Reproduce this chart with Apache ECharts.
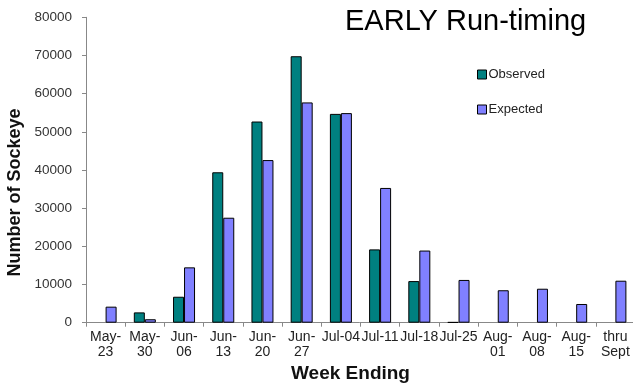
<!DOCTYPE html>
<html>
<head>
<meta charset="utf-8">
<script src="https://cdn.jsdelivr.net/npm/echarts@6/dist/echarts.min.js"></script>
<style>
  html, body { margin: 0; padding: 0; background: #fff; }
  #chart { width: 633px; height: 388px; }
</style>
</head>
<body>
<div id="chart"></div>
<script>
// Weekly sockeye counts, early run (null = no observation that week)
const weeks = ['May-\n23', 'May-\n30', 'Jun-\n06', 'Jun-\n13', 'Jun-\n20', 'Jun-\n27', 'Jul-04',
               'Jul-11', 'Jul-18', 'Jul-25', 'Aug-\n01', 'Aug-\n08', 'Aug-\n15', 'thru\nSept'];
const observed = [null, 2700, 6800, 39400, 52700, 69800, 54700, 19200, 10900, 150, null, null, null, null];
const expected = [4200, 900, 14500, 27500, 42600, 57700, 54900, 35300, 18900, 11200, 8500, 8900, 4900, 11000];
const yTicks = { min: 0, max: 80000, interval: 10000 };

const chart = echarts.init(document.getElementById('chart'), null, { renderer: 'canvas' });
const font = 'Liberation Sans, Arial, sans-serif';

chart.setOption({
  animation: false,
  backgroundColor: '#ffffff',
  title: {
    text: 'EARLY Run-timing',
    left: 340,
    top: 2,
    textStyle: { fontFamily: font, fontSize: 29, fontWeight: 'normal', color: '#000' }
  },
  legend: {
    orient: 'vertical',
    left: 477,
    top: 68,
    padding: 0,
    itemGap: 22,
    itemWidth: 9,
    itemHeight: 9,
    icon: 'rect',
    itemStyle: { borderColor: '#000', borderWidth: 1 },
    textStyle: { fontFamily: font, fontSize: 13, color: '#222', padding: [0, 0, 0, -3] },
    data: ['Observed', 'Expected']
  },
  grid: { left: 86, right: -2, top: 17.3, bottom: 65.3, containLabel: false, outerBoundsMode: 'none' },
  xAxis: {
    type: 'category',
    data: weeks,
    name: 'Week Ending',
    nameLocation: 'middle',
    nameGap: 42,
    nameTextStyle: { fontFamily: font, fontSize: 19, fontWeight: 'bold', color: '#111', padding: [0, 20, 0, 0] },
    axisLine: { lineStyle: { color: '#888', width: 1 } },
    axisTick: { show: true, length: 4, interval: 0, lineStyle: { color: '#888' } },
    axisLabel: { interval: 0, fontFamily: font, fontSize: 14, color: '#222', lineHeight: 15, margin: 7 },
    splitLine: { show: false }
  },
  yAxis: {
    type: 'value',
    min: yTicks.min,
    max: yTicks.max,
    interval: yTicks.interval,
    name: 'Number of Sockeye',
    nameLocation: 'middle',
    nameGap: 57,
    nameTextStyle: { fontFamily: font, fontSize: 18, fontWeight: 'bold', color: '#111', padding: [0, 45, 0, 0] },
    axisLine: { show: true, lineStyle: { color: '#888', width: 1 } },
    axisTick: { show: true, length: 4, lineStyle: { color: '#888' } },
    axisLabel: { fontFamily: font, fontSize: 13.5, color: '#333', margin: 14, formatter: v => String(v) },
    splitLine: { show: false }
  },
  series: [
    {
      name: 'Observed',
      type: 'bar',
      data: observed,
      barWidth: 11,
      barGap: '0%',
      itemStyle: { color: '#008080', borderColor: '#000', borderWidth: 1 }
    },
    {
      name: 'Expected',
      type: 'bar',
      data: expected,
      barWidth: 11,
      barGap: '0%',
      itemStyle: { color: '#8080ff', borderColor: '#000', borderWidth: 1 }
    }
  ]
});
</script>
</body>
</html>
